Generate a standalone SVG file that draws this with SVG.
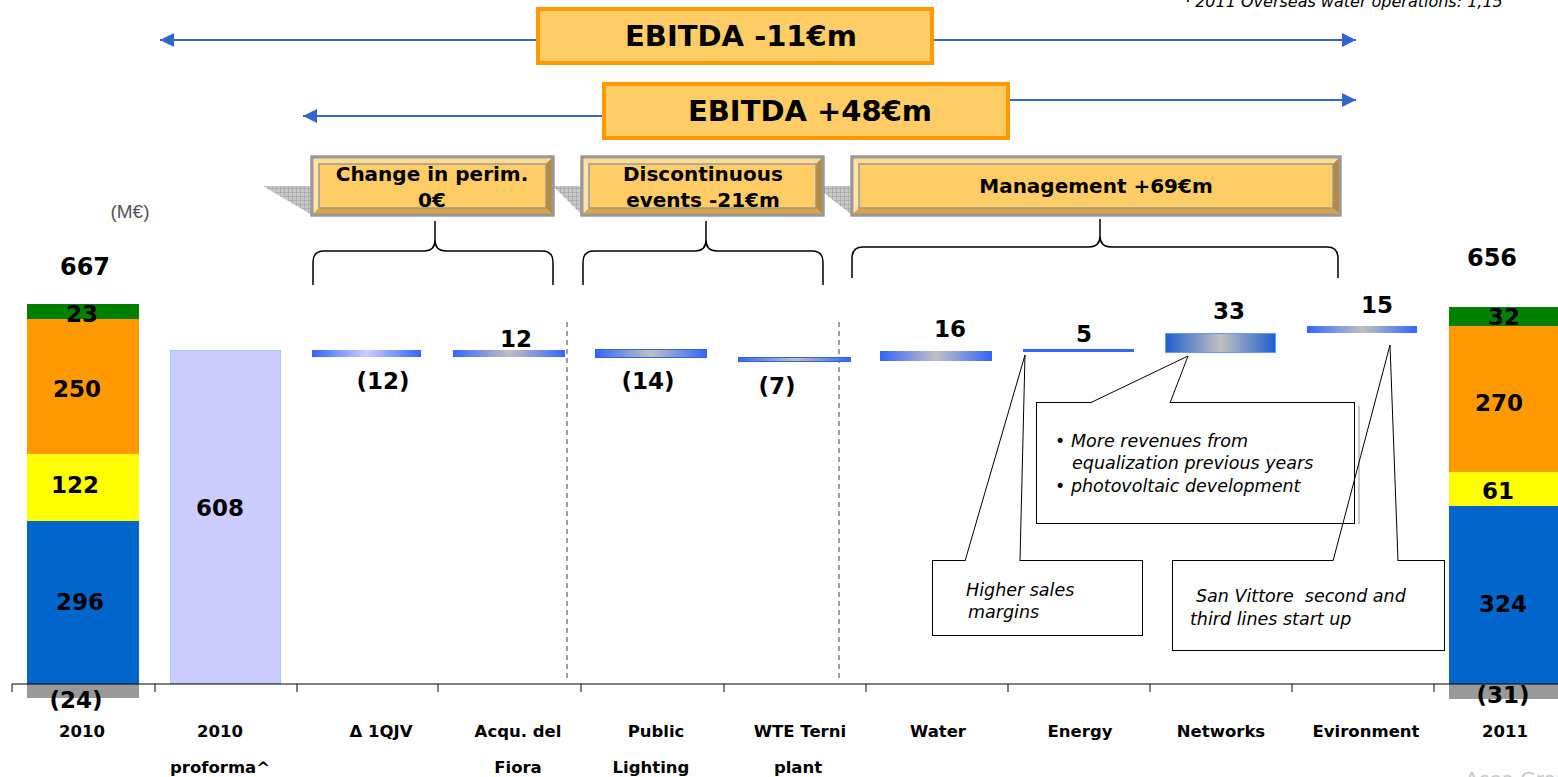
<svg xmlns="http://www.w3.org/2000/svg" width="1558" height="777" viewBox="0 0 1558 777">
<defs>
<style>
.b{font-family:"DejaVu Sans",Verdana,sans-serif;font-weight:bold;fill:#000;text-anchor:middle}
.v{font-size:23px}
.c{font-size:16.5px}
.i{font-family:"DejaVu Sans",Verdana,sans-serif;font-style:italic;font-size:17.5px;fill:#000}
.arr{stroke:#3366CC;stroke-width:2;fill:none}
.eb{fill:#FFCC66;stroke:#FF9900;stroke-width:4}
.call{fill:#fff;stroke:#000;stroke-width:1}
.brace{fill:none;stroke:#000;stroke-width:1.5}
.dash{stroke:#808080;stroke-width:1.5;stroke-dasharray:5,4}
.bl{fill:#FFCC66;stroke:#999;stroke-width:3}
</style>
<marker id="ah" viewBox="0 0 10 10" refX="10" refY="5" markerWidth="9" markerHeight="7" orient="auto-start-reverse" markerUnits="strokeWidth">
<path d="M0,0 L10,5 L0,10 z" fill="#3366CC"/>
</marker>
<linearGradient id="gA" x1="0" y1="0" x2="1" y2="0"><stop offset="0" stop-color="#3366FF"/><stop offset="0.5" stop-color="#CCCCFF"/><stop offset="1" stop-color="#3366FF"/></linearGradient>
<linearGradient id="gB" x1="0" y1="0" x2="1" y2="0"><stop offset="0" stop-color="#3366FF"/><stop offset="0.5" stop-color="#C0C0C0"/><stop offset="1" stop-color="#3366FF"/></linearGradient>
<linearGradient id="gC" x1="0" y1="0" x2="1" y2="0"><stop offset="0" stop-color="#1E5FD0"/><stop offset="0.5" stop-color="#C0C0C0"/><stop offset="1" stop-color="#1E5FD0"/></linearGradient>
<pattern id="hatch" width="4" height="4" patternUnits="userSpaceOnUse"><rect width="4" height="4" fill="#C8C8C8"/><path d="M0,0H4M0,0V4" stroke="#9A9A9A" stroke-width="1"/></pattern>
</defs>
<rect width="1558" height="777" fill="#fff"/>

<text x="1185" y="7" class="i" style="font-size:16px">· 2011 Overseas water operations: 1,15</text>
<text x="1465" y="786" style="font-family:'DejaVu Sans',sans-serif;font-size:20px;fill:#C8C8C8">Acea Group</text>
<text x="130" y="218" style="font-family:'Liberation Sans',Arial,sans-serif;font-size:19px;fill:#555;text-anchor:middle">(M€)</text>

<g id="connectors">
<line class="arr" x1="538" y1="40" x2="160" y2="40" marker-end="url(#ah)"/>
<line class="arr" x1="932" y1="40" x2="1356" y2="40" marker-end="url(#ah)"/>
<line class="arr" x1="603" y1="116" x2="303" y2="116" marker-end="url(#ah)"/>
<line class="arr" x1="1008" y1="100" x2="1356" y2="100" marker-end="url(#ah)"/>
<path class="brace" d="M313,285 V262 Q313,251 324,251 H424 Q435,251 435,240 V221 M435,240 Q435,251 446,251 H542 Q553,251 553,262 V285"/>
<path class="brace" d="M583,285 V262 Q583,251 594,251 H695 Q706,251 706,240 V221 M706,240 Q706,251 717,251 H812 Q823,251 823,262 V285"/>
<path class="brace" d="M852,278 V258 Q852,247 863,247 H1089 Q1100,247 1100,236 V219 M1100,236 Q1100,247 1111,247 H1327 Q1338,247 1338,258 V278"/>
<line class="dash" x1="567" y1="322" x2="567" y2="682"/>
<line class="dash" x1="839" y1="322" x2="839" y2="682"/>
</g>

<g id="ebitda-11">
<rect class="eb" x="538" y="9" width="394" height="54"/>
<text class="b" x="741" y="46" style="font-size:29px">EBITDA -11€m</text>
</g>
<g id="ebitda48">
<rect class="eb" x="604" y="84" width="404" height="54"/>
<text class="b" x="810" y="121" style="font-size:29px">EBITDA +48€m</text>
</g>

<g id="shadows">
<polygon points="263,186 312,186 312,215" fill="url(#hatch)"/>
<polygon points="553,186 582,186 582,215" fill="url(#hatch)"/>
<polygon points="815,186 852,186 852,215" fill="url(#hatch)"/>
</g>

<g id="box-perim">
<rect class="bl" x="312" y="157" width="241" height="58"/>
<polygon points="312,157 553,157 546,164 319,164" fill="#FFDC90"/>
<polygon points="312,157 319,164 319,208 312,215" fill="#FFE3A8"/>
<polygon points="553,157 553,215 546,208 546,164" fill="#B8893A"/>
<polygon points="312,215 553,215 546,208 319,208" fill="#D9A548"/>
<rect x="319" y="164" width="227" height="44" fill="none" stroke="#999" stroke-width="1.5"/>
<rect x="312" y="157" width="241" height="58" fill="none" stroke="#999" stroke-width="3"/>
<text class="b" x="432" y="181" style="font-size:20px">Change in perim.</text>
<text class="b" x="432" y="207" style="font-size:20px">0€</text>
</g>

<g id="box-disc">
<rect class="bl" x="582" y="157" width="241" height="58"/>
<polygon points="582,157 823,157 816,164 589,164" fill="#FFDC90"/>
<polygon points="582,157 589,164 589,208 582,215" fill="#FFE3A8"/>
<polygon points="823,157 823,215 816,208 816,164" fill="#B8893A"/>
<polygon points="582,215 823,215 816,208 589,208" fill="#D9A548"/>
<rect x="589" y="164" width="227" height="44" fill="none" stroke="#999" stroke-width="1.5"/>
<rect x="582" y="157" width="241" height="58" fill="none" stroke="#999" stroke-width="3"/>
<text class="b" x="703" y="181" style="font-size:20px">Discontinuous</text>
<text class="b" x="703" y="207" style="font-size:20px">events -21€m</text>
</g>

<g id="box-mgmt">
<rect class="bl" x="852" y="157" width="488" height="58"/>
<polygon points="852,157 1340,157 1333,164 859,164" fill="#FFDC90"/>
<polygon points="852,157 859,164 859,208 852,215" fill="#FFE3A8"/>
<polygon points="1340,157 1340,215 1333,208 1333,164" fill="#B8893A"/>
<polygon points="852,215 1340,215 1333,208 859,208" fill="#D9A548"/>
<rect x="859" y="164" width="474" height="44" fill="none" stroke="#999" stroke-width="1.5"/>
<rect x="852" y="157" width="488" height="58" fill="none" stroke="#999" stroke-width="3"/>
<text class="b" x="1096" y="193" style="font-size:20px">Management +69€m</text>
</g>

<g id="bar-2010">
<rect x="27" y="304" width="112" height="15" fill="#008000"/>
<rect x="27" y="319" width="112" height="135" fill="#FF9900"/>
<rect x="27" y="454" width="112" height="67" fill="#FFFF00"/>
<rect x="27" y="521" width="112" height="163" fill="#0066CC"/>
<rect x="27" y="684" width="112" height="14" fill="#999999"/>
<text class="b" x="85" y="275" style="font-size:24px">667</text>
<text class="b v" x="82" y="322">23</text>
<text class="b v" x="77" y="397">250</text>
<text class="b v" x="75" y="493">122</text>
<text class="b v" x="80" y="610">296</text>
<text class="b v" x="76" y="708">(24)</text>
</g>

<g id="bar-2010pf">
<rect x="170.5" y="350.5" width="110" height="333" fill="#CCCCFF" stroke="#99CCFF" stroke-width="1"/>
<text class="b v" x="220" y="516">608</text>
</g>

<g id="bar-1qjv"><rect x="312" y="350" width="109" height="7" fill="url(#gA)"/><text class="b v" x="383" y="389">(12)</text></g>
<g id="bar-fiora"><rect x="453" y="350" width="112" height="7" fill="url(#gB)"/><text class="b v" x="516" y="347">12</text></g>
<g id="bar-lighting"><rect x="595.5" y="349.5" width="111" height="8" fill="url(#gB)" stroke="#3366CC" stroke-width="1"/><text class="b v" x="648" y="389">(14)</text></g>
<g id="bar-terni"><rect x="738.5" y="357.5" width="112" height="4" fill="url(#gB)" stroke="#3366CC" stroke-width="1"/><text class="b v" x="777" y="394">(7)</text></g>
<g id="bar-water"><rect x="880" y="351" width="112" height="10" fill="url(#gB)"/><text class="b v" x="950" y="337">16</text></g>
<g id="bar-energy"><rect x="1023" y="349" width="111" height="3" fill="#3366FF"/><text class="b v" x="1084" y="342">5</text></g>
<g id="bar-networks"><rect x="1165.5" y="333.5" width="110" height="19" fill="url(#gC)" stroke="#6699FF" stroke-width="1"/><text class="b v" x="1229" y="319">33</text></g>
<g id="bar-environment"><rect x="1307" y="326" width="110" height="7" fill="url(#gB)"/><text class="b v" x="1377" y="313">15</text></g>

<g id="bar-2011">
<rect x="1449" y="307" width="110" height="19" fill="#008000"/>
<rect x="1449" y="326" width="110" height="146" fill="#FF9900"/>
<rect x="1449" y="472" width="110" height="34" fill="#FFFF00"/>
<rect x="1449" y="506" width="110" height="178" fill="#0066CC"/>
<rect x="1449" y="684" width="110" height="15" fill="#999999"/>
<text class="b" x="1492" y="266" style="font-size:24px">656</text>
<text class="b v" x="1504" y="325">32</text>
<text class="b v" x="1499" y="411">270</text>
<text class="b v" x="1498" y="499">61</text>
<text class="b v" x="1503" y="612">324</text>
<text class="b v" x="1503" y="703">(31)</text>
</g>

<g id="axis">
<line x1="12" y1="684" x2="1558" y2="684" stroke="#000" stroke-width="1"/>
<path d="M12,684V692M155,684V692M297,684V692M438,684V692M581,684V692M724,684V692M866,684V692M1008,684V692M1150,684V692M1292,684V692M1434,684V692" stroke="#000" stroke-width="1"/>
</g>

<g id="categories">
<text class="b c" x="82" y="737">2010</text>
<text class="b c" x="220" y="737">2010</text>
<text class="b c" x="220" y="773">proforma^</text>
<text class="b c" x="381" y="737">Δ 1QJV</text>
<text class="b c" x="518" y="737">Acqu. del</text>
<text class="b c" x="518" y="773">Fiora</text>
<text class="b c" x="656" y="737">Public</text>
<text class="b c" x="651" y="773">Lighting</text>
<text class="b c" x="800" y="737">WTE Terni</text>
<text class="b c" x="798" y="773">plant</text>
<text class="b c" x="938" y="737">Water</text>
<text class="b c" x="1080" y="737">Energy</text>
<text class="b c" x="1221" y="737">Networks</text>
<text class="b c" x="1366" y="737">Evironment</text>
<text class="b c" x="1505" y="737">2011</text>
</g>

<g id="callout-revenues">
<rect x="1358" y="406" width="2" height="118" fill="#C8C8C8"/>
<rect class="call" x="1036.5" y="402.5" width="318" height="121"/>
<path d="M1090,403 L1188,356 L1170,403" fill="#fff" stroke="#000" stroke-width="1"/>
<text class="i" x="1055" y="447">• More revenues from</text>
<text class="i" x="1072" y="469">equalization previous years</text>
<text class="i" x="1055" y="492">• photovoltaic development</text>
</g>

<g id="callout-margins">
<rect class="call" x="932.5" y="560.5" width="210" height="75"/>
<path d="M965,561 L1025,355 L1020,561" fill="#fff" stroke="#000" stroke-width="1"/>
<text class="i" x="966" y="596">Higher sales</text>
<text class="i" x="968" y="618">margins</text>
</g>

<g id="callout-sanvittore">
<rect class="call" x="1172.5" y="560.5" width="272" height="90"/>
<path d="M1333,561 L1390,345 L1398,561" fill="none" stroke="#000" stroke-width="1"/>
<line x1="1333.5" y1="560.5" x2="1397.5" y2="560.5" stroke="#fff" stroke-width="1"/>
<text class="i" x="1196" y="602" style="white-space:pre">San Vittore  second and</text>
<text class="i" x="1190" y="625">third lines start up</text>
</g>
</svg>
